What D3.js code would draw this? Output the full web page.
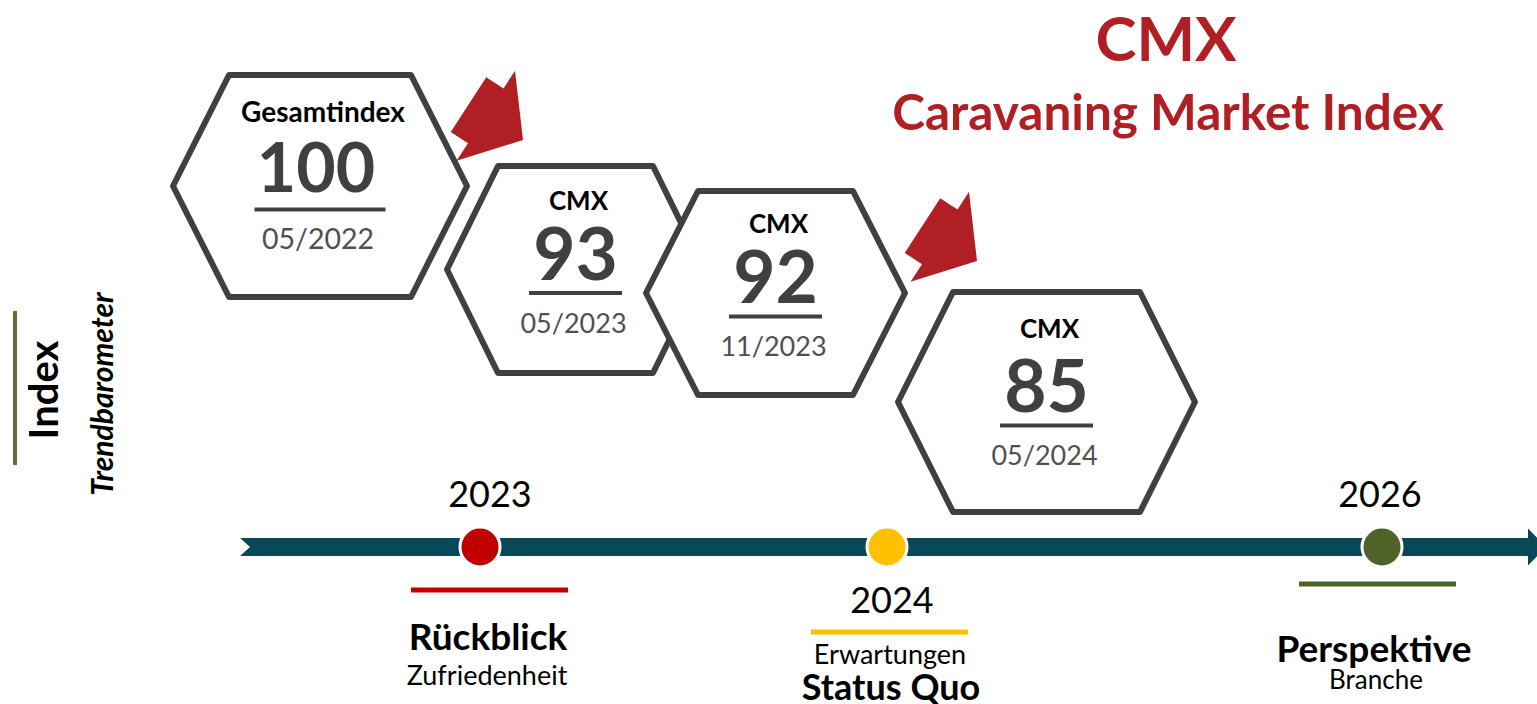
<!DOCTYPE html>
<html>
<head>
<meta charset="utf-8">
<script src="https://cdn.jsdelivr.net/npm/d3@7"></script>
<style>
  body { margin: 0; background: #fff; }
  text { font-family: Lato, "Noto Sans", sans-serif; }
</style>
</head>
<body>
<script>
// data ==========================================================
var hexLabels = ["Gesamtindex", "CMX", "CMX", "CMX"];
var hexValues = [100, 93, 92, 85];
var hexDates = ["05/2022", "05/2023", "11/2023", "05/2024"];

var years = ["2023", "2024", "2026"];
var yearTitles = ["Rückblick", "Status Quo", "Perspektive"];
var yearSubtitles = ["Zufriedenheit", "Erwartungen", "Branche"];
var yearColors = ["#c00000", "#ffc000", "#4f6228"];

// layout ========================================================
var width = 1537, height = 704;
var hexX = [320, 575.5, 775.5, 1046.5];
var hexY = [186, 269.5, 293, 402];
var hexSize = [
  {hw: 147, hh: 111, tw: 91},
  {hw: 128.5, hh: 103.5, tw: 77.5},
  {hw: 129.5, hh: 102, tw: 77.5},
  {hw: 148.5, hh: 110, tw: 93.5}
];
var numSize = [68, 73, 73, 73];
var dateSize = [28.5, 27, 27, 27];
var yearX = [480, 887, 1382];
var lineY = 547;

var svg = d3.select("body")
  .append("svg")
  .attr("width", width)
  .attr("height", height);

// hexagons ======================================================
function hexPath(cx, cy, s) {
  return d3.line()([
    [cx - s.hw, cy], [cx - s.tw, cy - s.hh], [cx + s.tw, cy - s.hh],
    [cx + s.hw, cy], [cx + s.tw, cy + s.hh], [cx - s.tw, cy + s.hh]
  ]) + "Z";
}

// red arrows where the index drops (tip position)
var arrowTip = [[523, 140], null, [977, 261]];
function arrowPath() {
  return d3.line()([
    [-65, -32.6], [-44.4, -32.6], [-44.4, -53.7], [0, 0],
    [-44.4, 53.7], [-44.4, 32.6], [-65, 32.6]
  ]) + "Z";
}

hexValues.forEach(function(v, i) {
  var g = svg.append("g").attr("class", "hex");
  g.append("path")
    .attr("d", hexPath(hexX[i], hexY[i], hexSize[i]))
    .attr("fill", "#fff")
    .attr("stroke", "#404040")
    .attr("stroke-width", 6)
    .attr("stroke-linejoin", "round");

  g.append("text")
    .attr("x", hexX[i] + (i == 0 ? 3 : 3))
    .attr("y", hexY[i] + (i == 0 || i == 3 ? -64 : -60))
    .attr("text-anchor", "middle")
    .attr("font-weight", "bold")
    .attr("font-size", i == 0 ? 28 : 26)
    .attr("fill", "#000")
    .text(hexLabels[i]);

  var num = g.append("text")
    .attr("x", hexX[i] - (i == 0 ? 4 : 0))
    .attr("y", hexY[i] + (i == 0 ? 6 : 10))
    .attr("text-anchor", "middle")
    .attr("font-weight", "bold")
    .attr("font-size", numSize[i])
    .attr("fill", "#404040")
    .text(v);
  var len = num.node().getComputedTextLength();
  var uw = Math.round(len * 1.12) - 2;
  g.append("rect")
    .attr("x", hexX[i] - uw / 2)
    .attr("y", hexY[i] + 21.5)
    .attr("width", uw)
    .attr("height", 4)
    .attr("fill", "#404040");

  g.append("text")
    .attr("x", hexX[i] - 2)
    .attr("y", hexY[i] + 63)
    .attr("text-anchor", "middle")
    .attr("font-size", dateSize[i])
    .attr("fill", "#505050")
    .text(hexDates[i]);

  if (i < hexValues.length - 1 && arrowTip[i] && hexValues[i] - hexValues[i + 1] > 5) {
    svg.append("path")
      .attr("d", arrowPath())
      .attr("transform", "translate(" + arrowTip[i] + ") rotate(33)")
      .attr("fill", "#b01f24");
  }
});

// title =========================================================
svg.append("text")
  .attr("x", 1166).attr("y", 61)
  .attr("text-anchor", "middle")
  .attr("font-weight", "bold")
  .attr("font-size", 62)
  .attr("fill", "#b01f24")
  .text("CMX");
svg.append("text")
  .attr("x", 1168).attr("y", 130)
  .attr("text-anchor", "middle")
  .attr("font-weight", "bold")
  .attr("font-size", 49.5)
  .attr("fill", "#b01f24")
  .text("Caravaning Market Index");

// left side label ===============================================
svg.append("rect")
  .attr("x", 13).attr("y", 311)
  .attr("width", 4).attr("height", 154)
  .attr("fill", "#5b7233");
svg.append("text")
  .attr("transform", "translate(58,390) rotate(-90)")
  .attr("text-anchor", "middle")
  .attr("font-weight", "bold")
  .attr("font-size", 40)
  .text("Index");
svg.append("text")
  .attr("transform", "translate(113,394) rotate(-90)")
  .attr("text-anchor", "middle")
  .attr("font-weight", "bold")
  .attr("font-style", "italic")
  .attr("font-size", 30)
  .text("Trendbarometer");

// timeline ======================================================
svg.append("path")
  .attr("d", d3.line()([
    [240, lineY - 9], [1528, lineY - 9], [1528, lineY - 18.5], [1546, lineY],
    [1528, lineY + 18.5], [1528, lineY + 9], [240, lineY + 9], [250, lineY]
  ]) + "Z")
  .attr("fill", "#074957");

svg.selectAll(".dot")
  .data(years)
  .enter()
  .append("circle")
  .attr("class", "dot")
  .attr("cx", function(d, i) { return yearX[i]; })
  .attr("cy", lineY)
  .attr("r", 20)
  .attr("fill", function(d, i) { return yearColors[i]; })
  .attr("stroke", "#fff")
  .attr("stroke-width", 3);

// year labels, 2024 sits below the line
var yearLabelY = [507, 613, 507];
var barY = [590, 632, 584];
var titleY = [650, 700, 662];
var subY = [685, 664, 689];

years.forEach(function(y, i) {
  svg.append("text")
    .attr("x", yearX[i] + (i == 1 ? 5 : 10) - (i == 2 ? 12 : 0))
    .attr("y", yearLabelY[i])
    .attr("text-anchor", "middle")
    .attr("font-size", 36)
    .text(y);
  svg.append("rect")
    .attr("x", yearX[i] + (i == 2 ? -4.5 : i == 1 ? 2.5 : 9.5) - 78.5)
    .attr("y", barY[i] - 2.5)
    .attr("width", 157)
    .attr("height", 5)
    .attr("fill", yearColors[i]);
  svg.append("text")
    .attr("x", yearX[i] + (i == 2 ? -8 : i == 1 ? 4 : 8))
    .attr("y", titleY[i])
    .attr("text-anchor", "middle")
    .attr("font-weight", "bold")
    .attr("font-size", i == 1 ? 36 : 37)
    .text(yearTitles[i]);
  svg.append("text")
    .attr("x", yearX[i] + (i == 2 ? -6 : i == 1 ? 3 : 7))
    .attr("y", subY[i])
    .attr("text-anchor", "middle")
    .attr("font-size", i == 2 ? 26 : 27)
    .text(yearSubtitles[i]);
});
</script>
</body>
</html>
